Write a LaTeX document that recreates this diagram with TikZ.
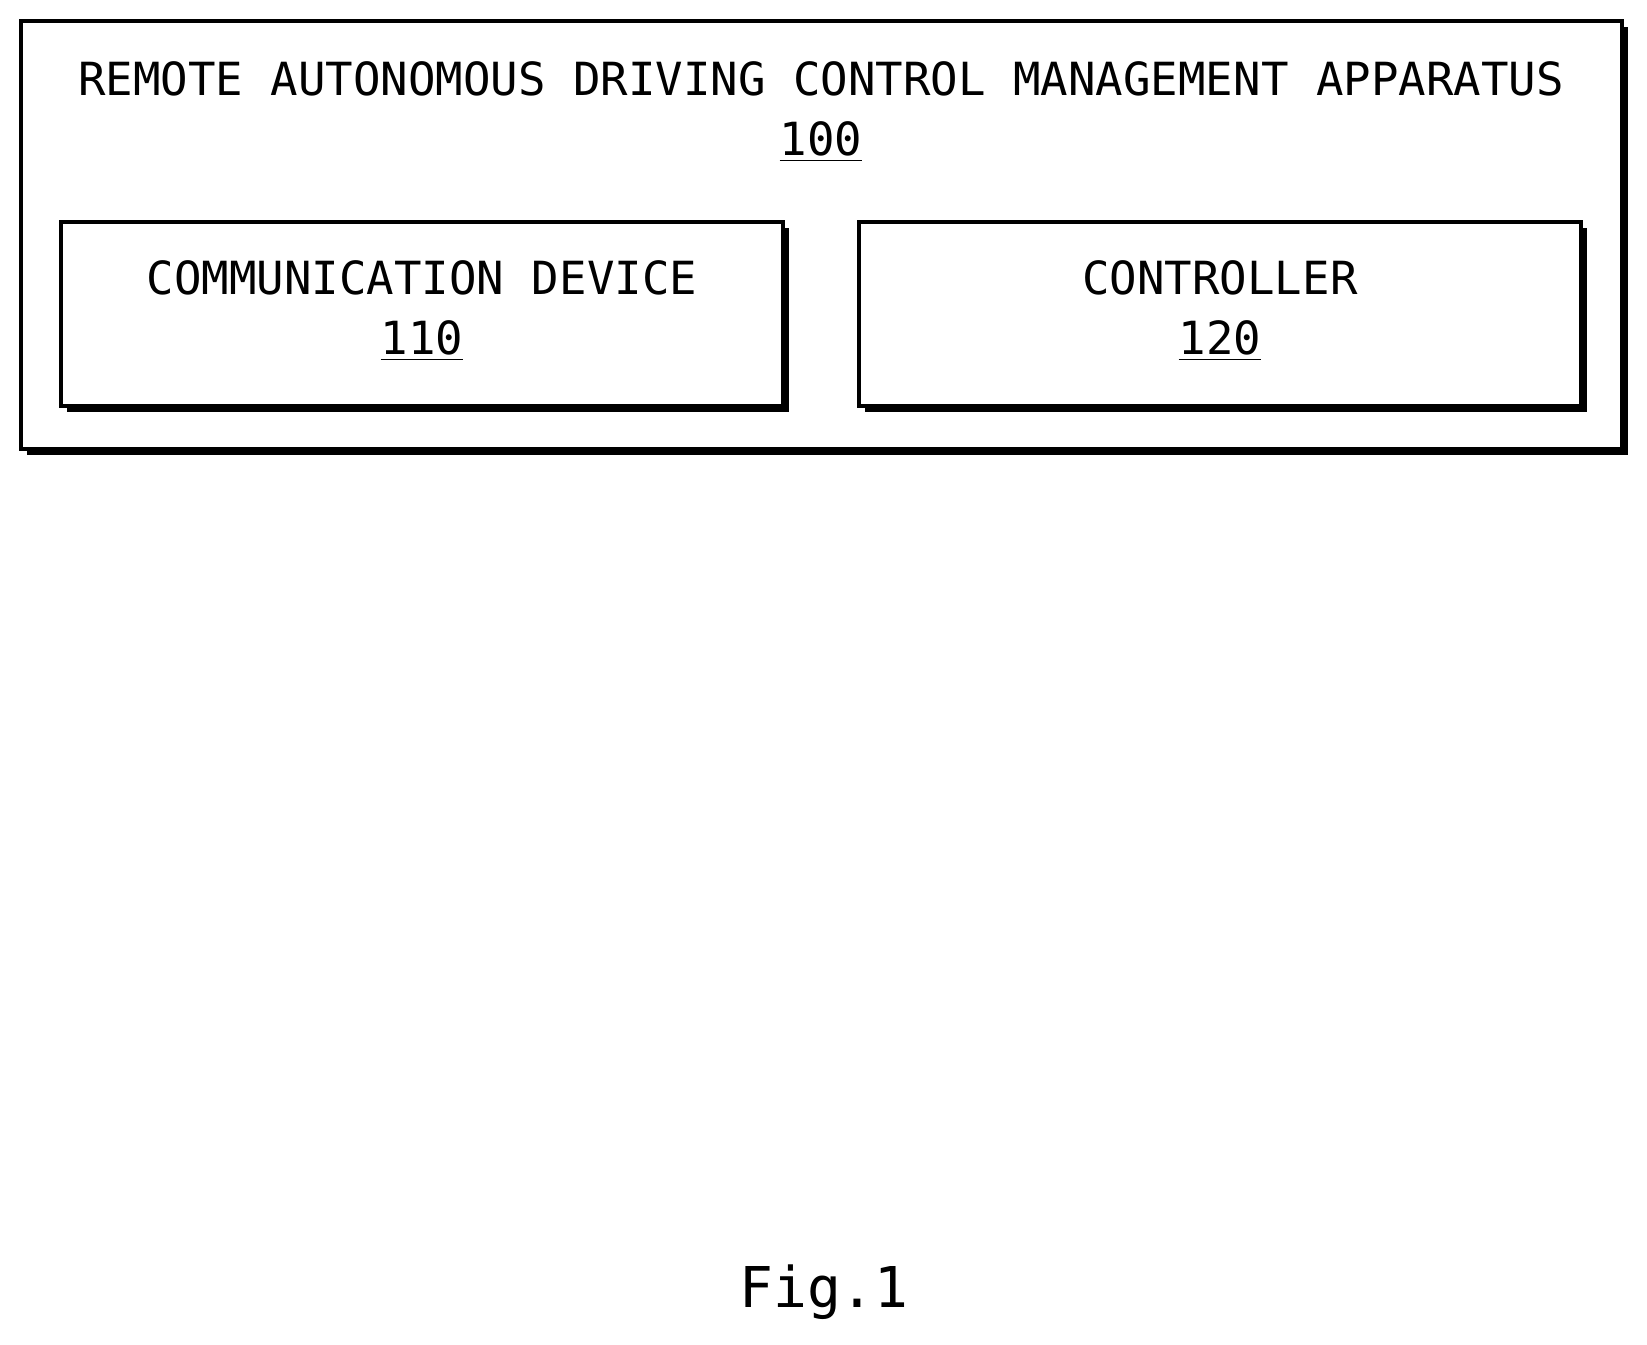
\documentclass[tikz,border=0pt]{standalone}
\usepackage{fontspec}
\setmainfont{DejaVu Sans Mono}
\usetikzlibrary{positioning}
\tikzset{
  blockbox/.style={draw, line width=1.4pt, fill=white},
  shade/.style={fill=black},
  lbl/.style={font=\fontsize{13}{16}\selectfont, align=center}
}
\begin{document}
\begin{tikzpicture}
\useasboundingbox (0,0) rectangle (16.47,-13.44);
% outer apparatus
\fill[shade] (0.27,-0.27) rectangle (16.28,-4.55);
\draw[blockbox] (0.21,-0.21) rectangle (16.22,-4.49);
\node[lbl] (title) at (8.21,-0.79) {REMOTE AUTONOMOUS DRIVING CONTROL MANAGEMENT APPARATUS};
\node[lbl] (num100) at (8.21,-1.42) {\underline{100}};

% communication device
\fill[shade] (0.67,-2.28) rectangle (7.89,-4.12);
\draw[blockbox] (0.61,-2.22) rectangle (7.83,-4.06);
\node[lbl] (comm) at (4.22,-2.78) {COMMUNICATION DEVICE};
\node[lbl] (num110) at (4.22,-3.41) {\underline{110}};

% controller
\fill[shade] (8.65,-2.28) rectangle (15.87,-4.12);
\draw[blockbox] (8.59,-2.22) rectangle (15.81,-4.06);
\node[lbl] (ctrl) at (12.2,-2.78) {CONTROLLER};
\node[lbl] (num120) at (12.2,-3.41) {\underline{120}};

\node[font=\fontsize{16}{19}\selectfont] (fig) at (8.24,-12.92) {Fig.1};
\end{tikzpicture}
\end{document}
